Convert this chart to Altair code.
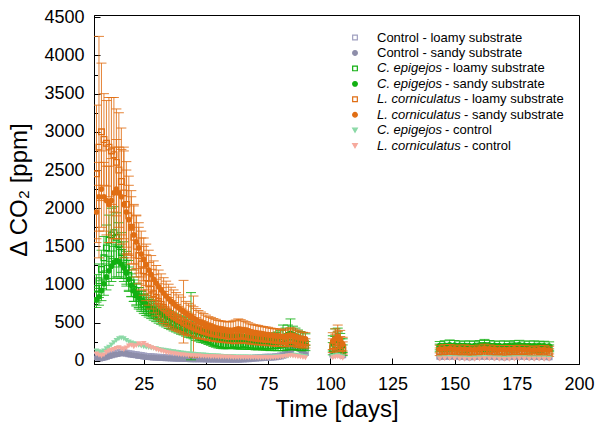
import altair as alt
import pandas as pd

# ---------------- data ----------------
DAY = list(range(6, 91)) + list(range(101, 106)) + list(range(144, 189, 2))

ctl_loamy = [60, 50, 45, 50, 60, 70, 80, 90, 100, 110,
             115, 110, 100, 95, 90, 85, 80, 75, 70, 65,
             60, 58, 55, 52, 50, 48, 46, 44, 42, 40,
             40, 38, 36, 35, 34, 33, 32, 31, 30, 30,
             30, 28, 28, 27, 26, 26, 25, 25, 24, 24,
             24, 23, 23, 22, 22, 22, 22, 22, 24, 26,
             28, 30, 32, 35, 38, 40, 42, 45, 48, 50,
             50, 50, 55, 60, 65, 75, 90, 120, 150, 180,
             200, 190, 170, 140, 110,
             90, 100, 110, 95, 80,
             60, 62, 65, 63, 60, 58, 56, 58, 62, 65, 63, 60, 58, 56, 58, 62, 64, 62, 60, 58, 60, 58, 55]

ctl_sandy = [40, 35, 30, 40, 50, 60, 70, 80, 85, 90,
             95, 100, 95, 85, 80, 75, 70, 65, 60, 55,
             50, 48, 46, 44, 42, 40, 38, 36, 35, 34,
             33, 32, 31, 30, 29, 28, 27, 26, 25, 25,
             24, 24, 23, 23, 22, 22, 21, 21, 20, 20,
             20, 20, 19, 19, 18, 18, 18, 18, 20, 22,
             24, 26, 28, 30, 32, 34, 36, 38, 40, 42,
             44, 46, 50, 55, 60, 70, 85, 110, 140, 160,
             170, 160, 140, 120, 90,
             70, 85, 95, 80, 65,
             45, 48, 50, 48, 46, 44, 43, 45, 48, 50, 48, 46, 44, 43, 45, 48, 50, 48, 46, 44, 46, 44, 42]

ce_loamy = [950, 1050, 1200, 1350, 1480, 1580, 1650, 1680, 1620, 1520,
            1420, 1320, 1220, 1120, 1020, 940, 870, 820, 780, 745,
            715, 690, 665, 640, 615, 595, 575, 555, 535, 515,
            495, 478, 460, 445, 430, 415, 400, 385, 372, 360,
            340, 325, 310, 300, 290, 275, 260, 245, 235, 225,
            220, 215, 210, 210, 215, 220, 215, 210, 215, 220,
            215, 210, 205, 205, 200, 200, 205, 200, 195, 195,
            195, 200, 200, 205, 210, 215, 225, 240, 250, 240,
            225, 215, 205, 200, 195,
            160, 210, 240, 190, 140,
            170, 175, 178, 175, 172, 170, 168, 172, 178, 180, 176, 172, 170, 168, 172, 176, 180, 175, 170, 168, 172, 168, 165]
ce_loamy_sd = [180, 220, 250, 280, 300, 330, 350, 340, 320, 290,
               260, 240, 215, 195, 175, 160, 150, 140, 130, 125,
               120, 115, 110, 105, 100, 100, 95, 95, 90, 90,
               85, 85, 80, 80, 80, 75, 75, 75, 70, 70,
               70, 65, 65, 60, 60, 60, 55, 55, 55, 55,
               55, 55, 50, 50, 50, 55, 55, 55, 60, 60,
               60, 60, 55, 55, 55, 55, 55, 55, 55, 55,
               60, 60, 65, 70, 75, 80, 85, 95, 100, 90,
               80, 75, 70, 65, 60,
               80, 110, 140, 100, 70,
               50, 55, 50, 45, 55, 60, 50, 45, 55, 60, 50, 55, 45, 50, 55, 60, 50, 45, 55, 50, 60, 50, 45]

ce_sandy = [800, 840, 920, 1010, 1100, 1180, 1240, 1290, 1310, 1300,
            1270, 1220, 1150, 1070, 990, 920, 870, 830, 795, 765,
            740, 715, 695, 675, 655, 635, 615, 600, 585, 570,
            555, 540, 525, 512, 500, 488, 476, 465, 455, 445,
            435, 425, 415, 405, 395, 385, 375, 365, 355, 345,
            340, 335, 330, 325, 325, 330, 335, 330, 325, 320,
            315, 310, 305, 300, 300, 295, 295, 290, 290, 285,
            285, 290, 295, 300, 310, 320, 330, 350, 360, 345,
            330, 315, 300, 290, 280,
            230, 270, 300, 250, 200,
            200, 205, 210, 208, 205, 200, 198, 202, 208, 212, 208, 204, 200, 198, 202, 206, 210, 205, 200, 198, 202, 198, 195]
ce_sandy_sd = [100, 110, 130, 150, 170, 190, 200, 210, 210, 200,
               190, 180, 170, 160, 150, 140, 135, 130, 125, 120,
               115, 110, 105, 100, 100, 95, 95, 90, 90, 90,
               85, 85, 85, 80, 80, 80, 75, 75, 440, 75,
               75, 70, 70, 70, 70, 65, 65, 65, 65, 65,
               65, 65, 65, 65, 65, 70, 70, 70, 70, 70,
               70, 70, 70, 70, 65, 65, 65, 65, 65, 65,
               65, 70, 75, 80, 90, 150, 100, 120, 190, 110,
               100, 90, 85, 80, 75,
               100, 150, 130, 110, 90,
               55, 60, 65, 60, 55, 60, 65, 55, 60, 70, 60, 55, 60, 65, 55, 60, 60, 55, 60, 65, 55, 60, 55]

lc_loamy = [2450, 2800, 3000, 2900, 2850, 2800, 2750, 2700, 2600, 2500,
            2350, 2200, 2050, 1900, 1750, 1620, 1500, 1380, 1270, 1180,
            1090, 1010, 940, 880, 830, 780, 740, 700, 670, 640,
            610, 590, 570, 550, 530, 510, 495, 480, 465, 450,
            435, 420, 410, 400, 390, 380, 370, 360, 355, 350,
            345, 340, 335, 330, 330, 325, 320, 330, 340, 335,
            330, 320, 310, 305, 300, 295, 290, 290, 285, 280,
            280, 275, 270, 265, 265, 260, 255, 270, 280, 270,
            260, 250, 240, 235, 230,
            200, 240, 260, 220, 170,
            120, 125, 130, 128, 125, 122, 120, 118, 125, 130, 128, 122, 118, 115, 120, 125, 122, 118, 115, 112, 118, 115, 110]
lc_loamy_sd = [900, 1450, 900, 600, 560, 650, 700, 750, 700, 750,
               700, 600, 560, 520, 480, 430, 400, 370, 340, 320,
               300, 280, 260, 250, 240, 230, 220, 210, 200, 190,
               180, 175, 170, 165, 160, 155, 150, 145, 140, 400,
               130, 125, 120, 115, 110, 110, 105, 100, 100, 100,
               100, 95, 95, 95, 95, 95, 95, 100, 100, 100,
               95, 90, 90, 85, 85, 85, 80, 80, 80, 80,
               80, 75, 75, 75, 75, 70, 70, 75, 80, 75,
               70, 70, 65, 65, 60,
               90, 110, 130, 100, 80,
               50, 55, 50, 45, 50, 55, 50, 45, 50, 55, 50, 45, 50, 55, 50, 45, 50, 55, 50, 45, 50, 55, 50]

lc_sandy = [1950, 2150, 2250, 2150, 2100, 2050, 2100, 2200, 2250, 2200,
            2150, 2050, 1950, 1850, 1750, 1650, 1560, 1480, 1400, 1330,
            1260, 1190, 1130, 1070, 1020, 970, 930, 890, 850, 815,
            780, 750, 720, 695, 670, 645, 620, 600, 580, 560,
            540, 520, 505, 490, 475, 460, 450, 440, 430, 420,
            415, 410, 405, 400, 400, 405, 410, 420, 415, 405,
            400, 390, 380, 375, 370, 365, 360, 355, 350, 345,
            340, 335, 330, 330, 325, 320, 320, 330, 340, 330,
            320, 310, 300, 295, 290,
            260, 290, 320, 280, 220,
            155, 160, 165, 160, 158, 155, 152, 150, 158, 165, 160, 155, 150, 148, 152, 158, 155, 150, 148, 145, 150, 148, 142]
lc_sandy_sd = [350, 450, 500, 450, 450, 500, 550, 600, 650, 600,
               620, 700, 550, 450, 400, 380, 350, 330, 300, 280,
               270, 260, 250, 240, 230, 220, 210, 200, 195, 190,
               185, 180, 175, 170, 165, 410, 160, 155, 150, 150,
               145, 140, 135, 130, 125, 120, 120, 115, 115, 110,
               110, 110, 110, 110, 115, 120, 125, 130, 125, 120,
               115, 110, 105, 100, 100, 100, 95, 95, 95, 95,
               90, 90, 90, 90, 90, 85, 85, 90, 95, 90,
               85, 85, 80, 80, 80,
               110, 130, 150, 120, 90,
               50, 55, 50, 45, 50, 55, 50, 45, 50, 55, 50, 45, 50, 55, 50, 45, 50, 55, 50, 45, 50, 55, 50]

ce_ctl = [130, 120, 110, 130, 160, 180, 210, 240, 270, 290,
          300, 290, 270, 250, 235, 225, 215, 205, 195, 185,
          180, 175, 170, 165, 160, 150, 145, 140, 135, 130,
          125, 120, 115, 110, 105, 100, 95, 92, 90, 88,
          85, 82, 80, 78, 75, 72, 70, 68, 66, 64,
          62, 60, 58, 56, 55, 54, 53, 52, 52, 52,
          52, 52, 50, 50, 50, 48, 48, 48, 50, 50,
          50, 52, 54, 55, 58, 60, 62, 65, 70, 75,
          75, 70, 65, 60, 55,
          60, 70, 75, 65, 55,
          40, 42, 45, 43, 40, 38, 36, 38, 42, 45, 43, 40, 38, 36, 38, 42, 44, 42, 40, 38, 40, 38, 35]

lc_ctl = [90, 75, 65, 80, 110, 130, 140, 150, 165, 175,
          160, 150, 170, 195, 205, 185, 200, 225, 210, 230,
          205, 190, 175, 165, 150, 140, 130, 120, 110, 105,
          100, 95, 90, 85, 80, 78, 75, 72, 70, 68,
          66, 64, 62, 60, 58, 56, 55, 54, 53, 52,
          52, 50, 50, 48, 48, 46, 46, 45, 45, 45,
          45, 44, 44, 43, 43, 42, 42, 42, 42, 42,
          42, 44, 46, 48, 50, 55, 60, 65, 70, 65,
          60, 55, 50, 45, 40,
          40, 50, 55, 45, 35,
          25, 28, 30, 28, 25, 22, 20, 22, 26, 30, 28, 25, 22, 20, 22, 26, 28, 26, 24, 22, 24, 22, 20]

X_TICKS = [25, 50, 75, 100, 125, 150, 175, 200]
Y_TICKS = [0, 500, 1000, 1500, 2000, 2500, 3000, 3500, 4000, 4500]
Y_MINOR = [250, 750, 1250, 1750, 2250, 2750, 3250, 3750, 4250]

# ---------------- styling ----------------
FONT = "Liberation Sans"
GREY_L = "#a0a0c0"
GREY_S = "#8e8eaa"
GREEN = "#12b012"
ORANGE = "#e06e14"
MINT = "#8bd9a6"
PINK = "#f6aa9e"

# (italic part, rest, values, sd, shape, filled, color)
SERIES = [
    ("", "Control - loamy substrate", ctl_loamy, None, "square", False, GREY_L),
    ("", "Control - sandy substrate", ctl_sandy, None, "circle", True, GREY_S),
    ("C. epigejos", "- loamy substrate", ce_loamy, ce_loamy_sd, "square", False, GREEN),
    ("C. epigejos", "- sandy substrate", ce_sandy, ce_sandy_sd, "circle", True, GREEN),
    ("L. corniculatus", "- loamy substrate", lc_loamy, lc_loamy_sd, "square", False, ORANGE),
    ("L. corniculatus", "- sandy substrate", lc_sandy, lc_sandy_sd, "circle", True, ORANGE),
    ("C. epigejos", "- control", ce_ctl, None, "triangle-down", True, MINT),
    ("L. corniculatus", "- control", lc_ctl, None, "triangle-down", True, PINK),
]

X_SCALE = alt.Scale(domain=[5, 200], nice=False, zero=False)
Y_SCALE = alt.Scale(domain=[-40, 4530], nice=False, zero=False)

common_axis = dict(
    labelFont=FONT, labelFontSize=18, labelColor="black",
    titleFont=FONT, titleFontSize=24, titleFontWeight="normal", titleColor="black",
    domainColor="black", tickColor="black", grid=False,
    labelFlush=False, labelOverlap=False,
)
X_AXIS = alt.Axis(values=X_TICKS, title="Time [days]", orient="bottom", format="d",
                  tickSize={"expr": "-6"}, labelPadding=17, titlePadding=4,
                  **common_axis)
Y_AXIS = alt.Axis(values=Y_TICKS, title="Δ CO₂ [ppm]", orient="left", format="d",
                  tickSize={"expr": "-6"}, labelPadding=16, titlePadding=12,
                  **common_axis)
Y_MINOR_AXIS = alt.Axis(values=Y_MINOR, title=None, orient="left", labels=False,
                        domain=False, grid=False, tickColor="black",
                        tickSize={"expr": "-3.5"})


def xenc():
    return alt.X("day:Q", scale=X_SCALE, axis=X_AXIS)


def yenc(field):
    return alt.Y(f"{field}:Q", scale=Y_SCALE, axis=Y_AXIS)


layers = []
for ital, rest, vals, sd, shape, filled, color in SERIES:
    df = pd.DataFrame({"day": DAY, "v": vals})
    if sd is not None:
        df["lo"] = df["v"] - pd.Series(sd)
        df["hi"] = df["v"] + pd.Series(sd)
        base = alt.Chart(df)
        layers.append(base.mark_rule(color=color, strokeWidth=1, opacity=0.85, clip=True)
                      .encode(x=xenc(), y=yenc("lo"), y2="hi:Q"))
        layers.append(base.mark_tick(color=color, orient="horizontal", size=10, thickness=1,
                                     opacity=0.85, clip=True)
                      .encode(x=xenc(), y=yenc("hi")))
        layers.append(base.mark_tick(color=color, orient="horizontal", size=10, thickness=1,
                                     opacity=0.85, clip=True)
                      .encode(x=xenc(), y=yenc("lo")))
    layers.append(alt.Chart(df).mark_point(shape=shape, filled=filled, color=color, size=32,
                                           strokeWidth=1.3, opacity=1, clip=True)
                  .encode(x=xenc(), y=yenc("v")))

data_layer = alt.layer(*layers)

minor = alt.Chart(pd.DataFrame({"v": [0]})).mark_point(opacity=0).encode(
    y=alt.Y("v:Q", scale=Y_SCALE, axis=Y_MINOR_AXIS))

# ---------------- legend (manual, to allow italic species names) ----------------
# pixel positions are relative to the plot area's top-left corner
LEG_SYM_X = 261
LEG_TXT_X = 283
LEG_Y0 = 22.5
LEG_DY = 15.45
ITALIC_W = {"": 0, "C. epigejos": 68, "L. corniculatus": 87}

leg = pd.DataFrame({
    "ital": [s[0] for s in SERIES],
    "rest": [s[1] for s in SERIES],
    "shape": [s[4] for s in SERIES],
    "fill": [s[6] if s[5] else "white" for s in SERIES],
    "stroke": [s[6] for s in SERIES],
})
leg["row"] = range(len(leg))
leg["py"] = LEG_Y0 + LEG_DY * leg["row"]
leg["rx"] = LEG_TXT_X + leg["ital"].map(ITALIC_W)

lbase = alt.Chart(leg)
leg_sym = lbase.mark_point(size=22, strokeWidth=1.2, opacity=1).encode(
    x=alt.value(LEG_SYM_X),
    y=alt.Y("py:Q", scale=None, axis=None),
    shape=alt.Shape("shape:N", scale=None),
    fill=alt.Fill("fill:N", scale=None),
    stroke=alt.Stroke("stroke:N", scale=None),
)
leg_it = lbase.mark_text(font=FONT, fontSize=13, fontStyle="italic", align="left",
                         baseline="middle", color="black").encode(
    x=alt.value(LEG_TXT_X), y=alt.Y("py:Q", scale=None, axis=None), text="ital:N")
leg_rest = lbase.mark_text(font=FONT, fontSize=13, align="left",
                           baseline="middle", color="black").encode(
    x=alt.X("rx:Q", scale=None, axis=None), y=alt.Y("py:Q", scale=None, axis=None),
    text="rest:N")

chart = alt.layer(data_layer, minor, leg_sym, leg_it, leg_rest).resolve_axis(
    y="independent"
).properties(
    width=485, height=349,
    autosize=alt.AutoSizeParams(type="none"),
    padding={"left": 94, "top": 15, "right": 17, "bottom": 61},
    background="white",
).configure_view(stroke="black", strokeWidth=1)

chart.save("out.html", embed_options={"renderer": "svg", "actions": False})
